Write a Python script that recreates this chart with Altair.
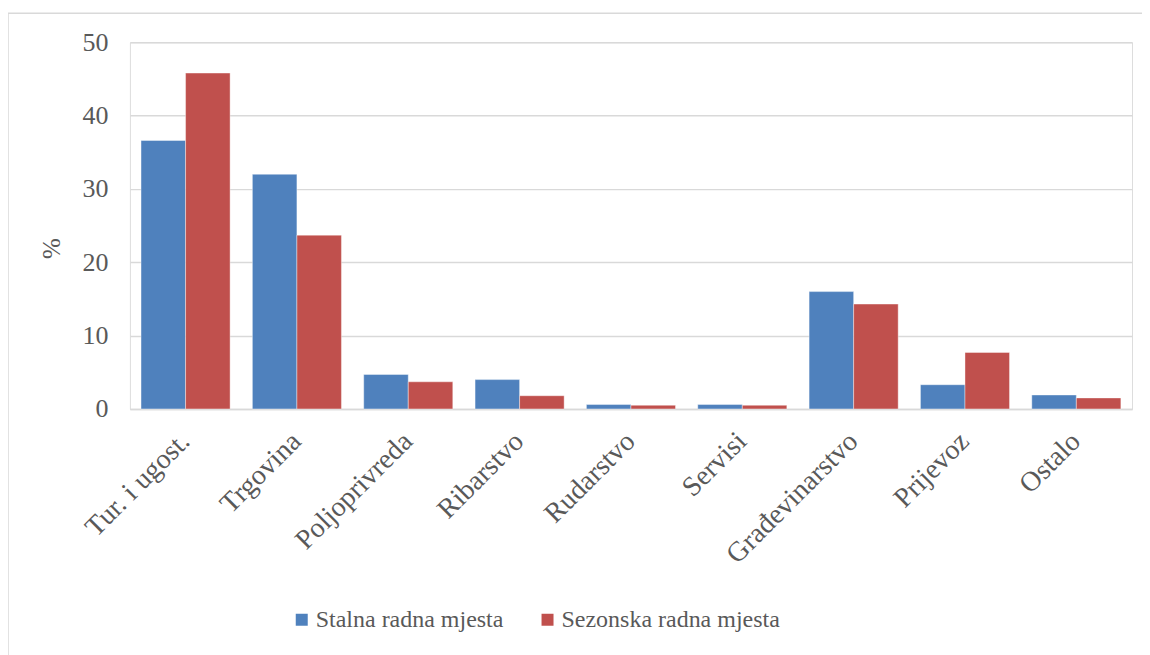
import altair as alt
import pandas as pd

categories = ["Tur. i ugost.", "Trgovina", "Poljoprivreda", "Ribarstvo", "Rudarstvo",
              "Servisi", "Građevinarstvo", "Prijevoz", "Ostalo"]
series_names = ["Stalna radna mjesta", "Sezonska radna mjesta"]
stalna = [36.6, 32.0, 4.7, 4.0, 0.6, 0.6, 16.0, 3.3, 1.9]
sezonska = [45.8, 23.7, 3.7, 1.8, 0.5, 0.5, 14.3, 7.7, 1.5]
colors = ["#4F81BD", "#C0504D"]

rows = []
for c, a, b in zip(categories, stalna, sezonska):
    rows.append({"kat": c, "serija": series_names[0], "val": a})
    rows.append({"kat": c, "serija": series_names[1], "val": b})
df = pd.DataFrame(rows)

FONT = "Liberation Serif"
TXT = "#595959"
GRID = "#D9D9D9"
W, H = 1003, 367

bars = alt.Chart(df).mark_bar(stroke="#ffffff", strokeWidth=0.8, strokeOpacity=0.5).encode(
    x=alt.X("kat:N", sort=categories,
            scale=alt.Scale(paddingInner=0.2, paddingOuter=0.1),
            axis=alt.Axis(title=None, labelAngle=-45, labelAlign="right", labelBaseline="middle",
                          labelPadding=28, ticks=False, domainColor=GRID, domainWidth=1.5,
                          labelFont=FONT, labelFontSize=28, labelColor=TXT, labelLimit=400)),
    xOffset=alt.XOffset("serija:N", sort=series_names, scale=alt.Scale(paddingInner=0, paddingOuter=0)),
    y=alt.Y("val:Q", scale=alt.Scale(domain=[0, 50]),
            axis=alt.Axis(title="%", values=[0, 10, 20, 30, 40, 50], ticks=False, domain=False,
                          gridColor=GRID, gridWidth=1.5, labelPadding=22,
                          labelFont=FONT, labelFontSize=26, labelColor=TXT,
                          titleFont=FONT, titleFontSize=25, titleColor=TXT, titleFontWeight="normal",
                          titleX=-78, titleY=206, titleAlign="center", titleBaseline="middle")),
    color=alt.Color("serija:N", sort=series_names,
                    scale=alt.Scale(domain=series_names, range=colors),
                    legend=alt.Legend(title=None, orient="none", direction="horizontal",
                                      legendX=160, legendY=566, symbolType="square",
                                      symbolSize=144, symbolStrokeWidth=0, labelFont=FONT,
                                      labelFontSize=24, labelColor=TXT, labelOffset=2,
                                      columnPadding=32, labelLimit=400)),
)

frame = alt.Chart(pd.DataFrame({"k": [0]})).mark_rect(fill=None, stroke=GRID, strokeWidth=1.5).encode(
    x=alt.value(-122), x2=alt.value(1150), y=alt.value(-29), y2=alt.value(700)
)

chart = alt.layer(frame, bars).properties(
    width=W, height=H,
    padding={"left": 122, "top": 34, "right": 10, "bottom": 246},
    autosize=alt.AutoSizeParams(type="none"),
).configure_view(strokeWidth=0).configure(background="white")

chart.save("out.html", embed_options={"renderer": "svg", "actions": False})
